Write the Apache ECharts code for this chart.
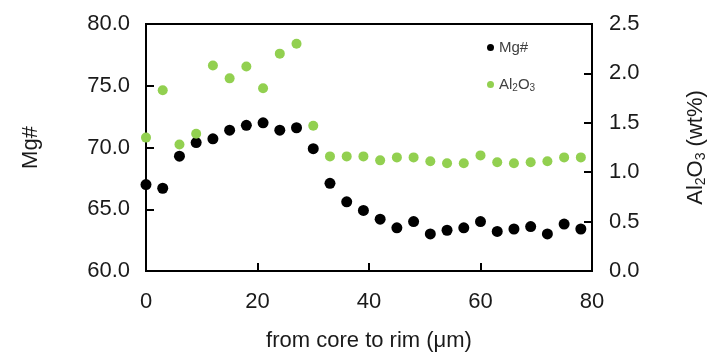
<!DOCTYPE html>
<html><head><meta charset="utf-8">
<script src="https://cdn.jsdelivr.net/npm/echarts@6/dist/echarts.min.js"></script>
<style>html,body{margin:0;padding:0;background:#fff}#c{width:718px;height:361px}</style>
</head><body><div id="c"></div>
<script>
const distance = [0,3,6,9,12,15,18,21,24,27,30,33,36,39,42,45,48,51,54,57,60,63,66,69,72,75,78];
const mgNumber = [67.0,66.7,69.3,70.4,70.7,71.4,71.8,72.0,71.4,71.6,69.9,67.1,65.6,64.9,64.2,63.5,64.0,63.0,63.3,63.5,64.0,63.2,63.4,63.6,63.0,63.8,63.4];
const al2o3 = [1.35,1.83,1.28,1.39,2.08,1.95,2.07,1.85,2.20,2.30,1.47,1.16,1.16,1.16,1.12,1.15,1.15,1.11,1.09,1.09,1.17,1.10,1.09,1.10,1.11,1.15,1.15];
const xTicks = [0,20,40,60,80];
const leftTicks = [60,65,70,75,80];
const rightTicks = [0,0.5,1,1.5,2,2.5];

const chart = echarts.init(document.getElementById('c'));
const font = 'Liberation Sans, Arial, sans-serif';
const txt = '#1a1a1a';
const axisLine = {show:true, lineStyle:{color:'#000', width:2}};
const tick = {show:true, inside:true, length:8, lineStyle:{color:'#000', width:2}};
chart.setOption({
  animation:false,
  grid:{left:146, right:126, top:24, bottom:90, show:true, borderColor:'#000', borderWidth:2},
  legend:{
    orient:'vertical', left:482, top:35, itemGap:22, itemWidth:7, itemHeight:7,
    data:[{name:'Mg#', icon:'circle'},{name:'Al2O3', icon:'circle'}],
    textStyle:{fontFamily:font, fontSize:15, color:'#404040',
      rich:{s:{fontSize:10, verticalAlign:'bottom', padding:[7,0,0,0], fontFamily:font, color:'#404040'}, n:{fontSize:15, fontFamily:font, color:'#404040'}}},
    formatter: n => n==='Al2O3' ? '{n|Al}{s|2}{n|O}{s|3}' : n
  },
  xAxis:{type:'value', min:xTicks[0], max:xTicks[xTicks.length-1], interval:20,
    name:'from core to rim (μm)', nameLocation:'middle', nameGap:59,
    nameTextStyle:{fontFamily:font, fontSize:22, color:txt},
    axisLine, axisTick:tick, splitLine:{show:false},
    axisLabel:{fontFamily:font, fontSize:22, color:txt, margin:20}},
  yAxis:[
    {type:'value', min:leftTicks[0], max:leftTicks[leftTicks.length-1], interval:5, position:'left',
     name:'Mg#', nameLocation:'middle', nameGap:104, nameRotate:90,
     nameTextStyle:{fontFamily:font, fontSize:22, color:txt},
     axisLine, axisTick:tick, splitLine:{show:false},
     axisLabel:{fontFamily:font, fontSize:22, color:txt, margin:16, formatter:v=>v.toFixed(1)}},
    {type:'value', min:rightTicks[0], max:rightTicks[rightTicks.length-1], interval:0.5, position:'right',
     name:'{n|Al}{s|2}{n|O}{s|3}{n| (wt%)}', nameLocation:'middle', nameGap:92, nameRotate:90,
     nameTextStyle:{fontFamily:font, fontSize:22, color:txt,
       rich:{n:{fontFamily:font, fontSize:22, color:txt}, s:{fontFamily:font, fontSize:14, color:txt, verticalAlign:'bottom', padding:[10,0,0,0]}}},
     axisLine, axisTick:tick, splitLine:{show:false},
     axisLabel:{fontFamily:font, fontSize:22, color:txt, margin:17, formatter:v=>v.toFixed(1)}}
  ],
  series:[
    {name:'Mg#', type:'scatter', yAxisIndex:0, symbolSize:11, itemStyle:{color:'#000', opacity:1},
     data:distance.map((d,i)=>[d, mgNumber[i]])},
    {name:'Al2O3', type:'scatter', yAxisIndex:1, symbolSize:10, itemStyle:{color:'#92D050', opacity:1},
     data:distance.map((d,i)=>[d, al2o3[i]])}
  ]
});
</script></body></html>
